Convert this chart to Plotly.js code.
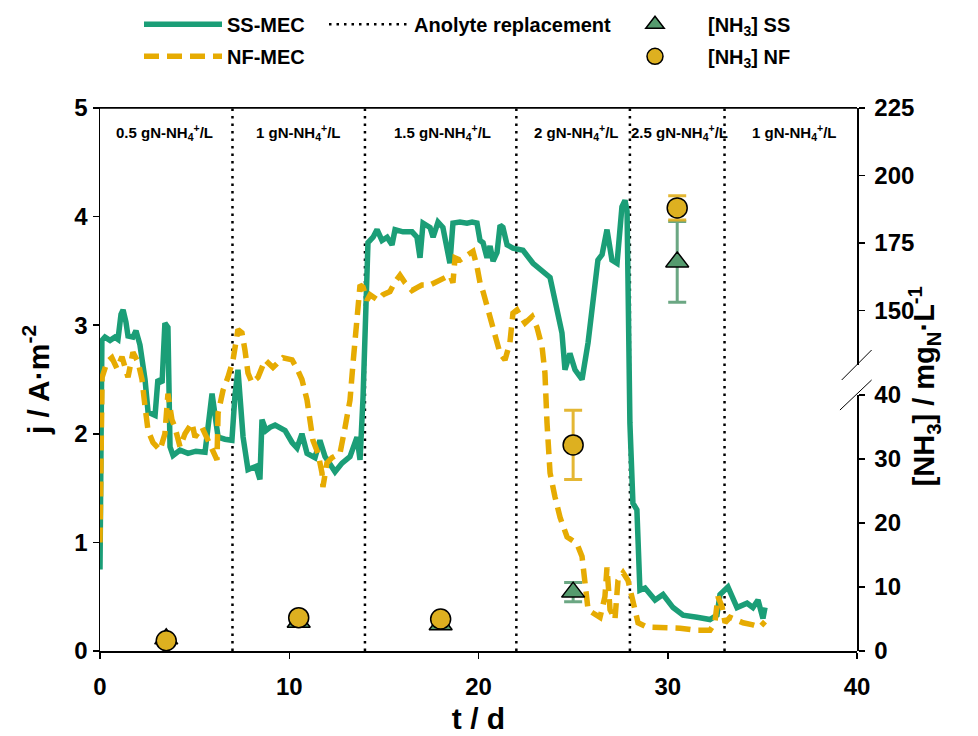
<!DOCTYPE html>
<html>
<head>
<meta charset="utf-8">
<script src="https://cdn.plot.ly/plotly-3.0.1.min.js"></script>
<style>html,body{margin:0;padding:0;background:#fff;}#chart{width:978px;height:736px;}</style>
</head>
<body>
<div id="chart"></div>
<script>
// ---- data ----
const ssDays = [0,0.05,0.1,0.26,0.53,0.79,0.95,1.11,1.22,1.37,1.48,1.74,1.9,2.11,2.38,2.54,2.91,3.06,3.28,3.43,3.59,3.7,3.86,4.23,4.65,5.07,5.55,5.92,6.08,6.24,6.6,6.97,7.13,7.29,7.56,7.82,8.24,8.45,8.56,8.77,8.98,9.25,9.78,10.15,10.41,10.67,10.94,11.36,11.62,11.89,12.42,12.79,13.21,13.58,13.74,13.9,14.16,14.43,14.64,14.9,15.17,15.43,15.59,16.01,16.49,16.75,16.91,17.07,17.44,17.6,17.86,18.12,18.49,18.65,19.02,19.39,19.66,19.92,20.08,20.24,20.45,20.61,20.77,20.98,21.14,21.29,21.51,21.82,22.35,22.88,23.78,24.15,24.41,24.57,24.83,25.1,25.47,25.79,26.05,26.31,26.53,26.79,27.05,27.32,27.58,27.74,27.85,28.0,28.16,28.37,28.53,28.8,29.33,29.75,30.28,30.81,31.55,32.23,32.6,32.76,33.18,33.66,34.19,34.5,34.77,35.03,35.14];
const ssJ = [0.75,2.6,2.86,2.89,2.86,2.89,2.87,3.1,3.14,3.03,2.9,2.89,2.95,2.82,2.5,2.2,2.17,2.5,2.47,3.02,2.98,1.88,1.8,1.85,1.82,1.84,1.83,2.37,2.19,1.97,1.95,1.94,2.35,2.59,1.97,1.67,1.7,1.58,2.13,2.03,2.06,2.08,2.03,1.92,1.87,2.0,1.82,1.78,1.94,1.79,1.65,1.73,1.79,1.97,1.76,2.34,3.76,3.81,3.88,3.78,3.81,3.74,3.88,3.86,3.86,3.81,3.62,3.94,3.9,3.81,3.95,3.9,3.57,3.94,3.95,3.94,3.95,3.94,3.78,3.76,3.62,3.73,3.59,3.67,3.92,3.9,3.74,3.71,3.69,3.57,3.44,3.17,2.93,2.59,2.74,2.59,2.5,2.84,3.2,3.6,3.65,3.88,3.6,3.57,4.09,4.15,4.05,2.1,1.36,1.3,0.56,0.58,0.47,0.52,0.4,0.33,0.31,0.29,0.33,0.52,0.59,0.4,0.44,0.4,0.47,0.3,0.4];

const nfDays = [0,0.05,0.11,0.37,0.63,0.9,1.16,1.48,1.74,2.01,2.22,2.38,2.54,2.8,3.17,3.43,3.59,3.8,3.96,4.23,4.49,4.86,5.02,5.39,5.65,5.92,6.18,6.24,6.5,6.76,7.03,7.29,7.5,7.66,7.82,8.03,8.35,8.72,9.14,9.67,10.15,10.41,10.67,10.94,11.1,11.25,11.52,11.73,11.78,11.99,12.26,12.68,12.95,13.21,13.37,13.58,13.74,13.9,14.11,14.27,14.69,14.95,15.32,15.59,15.85,16.12,16.49,16.8,17.01,17.44,17.97,18.49,18.65,18.76,19.02,19.39,19.71,19.92,20.08,20.24,20.45,20.61,20.77,20.98,21.14,21.4,21.66,21.82,22.03,22.19,22.46,22.83,23.09,23.36,23.51,23.62,23.78,24.04,24.31,24.68,25.2,25.47,25.63,25.79,26.05,26.42,26.68,26.79,26.95,27.21,27.37,27.64,27.9,28.16,28.43,28.9,29.75,30.65,31.55,32.23,32.49,32.65,32.87,33.03,33.29,33.98,34.5,34.87,35.14];
const nfJ = [1.0,2.0,2.52,2.66,2.7,2.6,2.71,2.52,2.75,2.66,2.5,2.25,2.03,1.92,1.85,2.0,2.37,2.13,2.06,1.88,2.0,2.1,1.97,2.06,1.97,1.85,1.76,2.19,2.4,2.52,2.68,2.96,2.93,2.77,2.56,2.47,2.52,2.68,2.61,2.7,2.68,2.6,2.5,2.31,2.13,1.94,1.82,1.64,1.51,1.73,1.78,1.82,2.06,2.31,2.65,3.08,3.37,3.35,3.23,3.28,3.23,3.28,3.31,3.4,3.46,3.39,3.32,3.35,3.37,3.37,3.42,3.46,3.39,3.62,3.6,3.65,3.68,3.54,3.39,3.31,3.17,3.08,2.98,2.86,2.74,2.68,2.84,3.11,3.14,3.09,3.02,3.08,2.98,2.8,2.56,2.1,1.64,1.42,1.23,1.05,0.99,0.87,0.65,0.38,0.35,0.31,0.5,0.77,0.38,0.29,0.65,0.72,0.65,0.44,0.26,0.22,0.22,0.21,0.19,0.19,0.26,0.5,0.41,0.26,0.31,0.26,0.24,0.22,0.27];

const replacementDays = [7, 14, 22, 28, 33];
const phaseCenters = [3.4, 10.5, 18.1, 25.2, 30.6, 36.7];
const phaseLabels = ["0.5 gN-NH<sub>4</sub><sup>+</sup>/L", "1 gN-NH<sub>4</sub><sup>+</sup>/L", "1.5 gN-NH<sub>4</sub><sup>+</sup>/L", "2 gN-NH<sub>4</sub><sup>+</sup>/L", "2.5 gN-NH<sub>4</sub><sup>+</sup>/L", "1 gN-NH<sub>4</sub><sup>+</sup>/L"];

const nh3Days = [3.5, 10.5, 18, 25, 30.5];
const nh3SS = [1.9, 4.5, 4.1, 9.2, 168];
const nh3SSerr = [0, 0, 0, 1.5, 15];
const nh3NF = [1.6, 5.2, 5.0, 32.2, 188];
const nh3NFerr = [0, 0, 0, 5.4, 4.5];

const jTicks = [0, 1, 2, 3, 4, 5];
const tTicks = [0, 10, 20, 30, 40];
const lowTicks = [0, 10, 20, 30, 40];
const highTicks = [150, 175, 200, 225];

// ---- styling ----
const FONT = 'Liberation Sans, Arial, sans-serif';
const GREEN = '#1b9e77';
const GOLD = '#e6ab02';
const BREAK = 40;

function pick(arr, idx) { return idx.map(i => arr[i]); }
const lowIdx = nh3Days.map((d, i) => i).filter(i => nh3SS[i] <= BREAK && nh3NF[i] <= BREAK);
const highIdx = nh3Days.map((d, i) => i).filter(i => nh3SS[i] > BREAK || nh3NF[i] > BREAK);

const repX = [], repY = [];
replacementDays.forEach(d => { repX.push(d, d, null); repY.push(0, 5, null); });

const ssMarker = {symbol: 'triangle-up', size: 20, color: '#559b6e', line: {color: '#000', width: 1.5}};
const nfMarker = {symbol: 'circle', size: 20, color: '#ddb020', line: {color: '#000', width: 1.5}};

const traces = [
  {x: repX, y: repY, mode: 'lines', name: 'Anolyte replacement', line: {color: '#000', width: 2.5, dash: '2.5px,5px'}, legend: 'legend2', hoverinfo: 'skip'},
  {x: ssDays, y: ssJ, mode: 'lines', name: 'SS-MEC', line: {color: GREEN, width: 5.5}, legend: 'legend', legendgroup: 'a'},
  {x: nfDays, y: nfJ, mode: 'lines', name: 'NF-MEC', line: {color: GOLD, width: 5.5, dash: '15px,8px'}, legend: 'legend', legendgroup: 'b'},
  {x: pick(nh3Days, lowIdx), y: pick(nh3SS, lowIdx), yaxis: 'y2', mode: 'markers', name: '[NH<sub>3</sub>] SS', marker: ssMarker,
   error_y: {type: 'data', array: pick(nh3SSerr, lowIdx), color: 'rgba(70,145,100,0.8)', thickness: 3, width: 9}, legend: 'legend3', legendgroup: 'c'},
  {x: pick(nh3Days, highIdx), y: pick(nh3SS, highIdx), yaxis: 'y3', mode: 'markers', name: '[NH<sub>3</sub>] SS', marker: ssMarker, showlegend: false,
   error_y: {type: 'data', array: pick(nh3SSerr, highIdx), color: 'rgba(70,145,100,0.8)', thickness: 3, width: 9}, legendgroup: 'c'},
  {x: pick(nh3Days, lowIdx), y: pick(nh3NF, lowIdx), yaxis: 'y2', mode: 'markers', name: '[NH<sub>3</sub>] NF', marker: nfMarker,
   error_y: {type: 'data', array: pick(nh3NFerr, lowIdx), color: 'rgba(225,175,30,0.9)', thickness: 3, width: 9}, legend: 'legend3', legendgroup: 'd'},
  {x: pick(nh3Days, highIdx), y: pick(nh3NF, highIdx), yaxis: 'y3', mode: 'markers', name: '[NH<sub>3</sub>] NF', marker: nfMarker, showlegend: false,
   error_y: {type: 'data', array: pick(nh3NFerr, highIdx), color: 'rgba(225,175,30,0.9)', thickness: 3, width: 9}, legendgroup: 'd'}
];

const tickFont = {family: FONT, size: 24, color: '#000', weight: 700};
const axisCommon = {showline: true, linecolor: '#000', linewidth: 1.5, ticks: 'outside', ticklen: 6, tickwidth: 1.5, tickcolor: '#000', showgrid: false, zeroline: false, tickfont: tickFont, fixedrange: true, automargin: false};

const annotations = phaseLabels.map((t, i) => ({
  x: phaseCenters[i], y: 0.955, xref: 'x', yref: 'paper', yanchor: 'middle', text: t, showarrow: false,
  font: {family: FONT, size: 15, color: '#000', weight: 700}
}));
annotations.push({
  x: 1.118, y: 0.488, xref: 'paper', yref: 'paper', textangle: -90, showarrow: false,
  text: '[NH<sub>3</sub>] / mg<sub>N</sub>·L<sup>-1</sup>',
  font: {family: FONT, size: 29, color: '#000', weight: 700}
});

const legendFont = {family: FONT, size: 20, color: '#000', weight: 700};
const legendBase = {y: 1.19, xanchor: 'left', yanchor: 'top', font: legendFont, bgcolor: 'rgba(0,0,0,0)', tracegroupgap: 3};
const layout = {
  width: 978, height: 736,
  margin: {l: 100, r: 121, t: 108, b: 85, autoexpand: false},
  paper_bgcolor: '#fff', plot_bgcolor: 'rgba(0,0,0,0)',
  showlegend: true,
  xaxis: Object.assign({}, axisCommon, {range: [0, 40], tickvals: tTicks, mirror: true, ticklabelstandoff: 8,
    title: {text: 't / d', font: {family: FONT, size: 30, color: '#000', weight: 700}, standoff: 8}}),
  yaxis: Object.assign({}, axisCommon, {range: [0, 5], tickvals: jTicks,
    title: {text: 'j / A·m<sup>-2</sup>', font: {family: FONT, size: 30, color: '#000', weight: 700}, standoff: 16}}),
  yaxis2: Object.assign({}, axisCommon, {anchor: 'x', side: 'right', domain: [0, 256/543], range: [0, 40], tickvals: lowTicks, ticklabelstandoff: 5}),
  yaxis3: Object.assign({}, axisCommon, {anchor: 'x', side: 'right', domain: [286/543, 1], range: [129.8, 225], tickvals: highTicks, ticklabelstandoff: 5}),
  legend: Object.assign({}, legendBase, {x: 39/757, itemwidth: 78}),
  legend2: Object.assign({}, legendBase, {x: 224/757, itemwidth: 80}),
  legend3: Object.assign({}, legendBase, {x: 502/757, itemwidth: 96}),
  annotations: annotations,
  shapes: [
    {type: 'line', xref: 'paper', yref: 'paper', x0: 0, y0: 1, x1: 1, y1: 1, line: {color: '#000', width: 1.5}},
    {type: 'line', xref: 'paper', yref: 'paper', x0: 0.9798, y0: 0.4991, x1: 1.0193, y1: 0.5543, line: {color: '#000', width: 1}},
    {type: 'line', xref: 'paper', yref: 'paper', x0: 0.9775, y0: 0.4438, x1: 1.0193, y1: 0.4991, line: {color: '#000', width: 1}}
  ]
};

Plotly.newPlot('chart', traces, layout, {staticPlot: true, displayModeBar: false});
</script>
</body>
</html>
